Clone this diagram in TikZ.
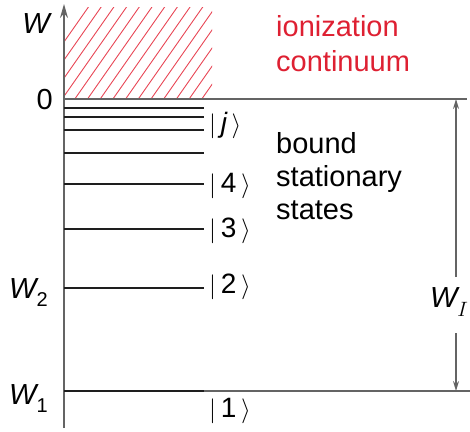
\documentclass[tikz,border=0pt]{standalone}
\usepackage{fontspec}
\setmainfont{Liberation Sans}
\usetikzlibrary{arrows.meta}
\definecolor{ionred}{RGB}{222,32,50}
\definecolor{hatchred}{RGB}{232,70,85}
\definecolor{axisgray}{RGB}{100,100,100}
\definecolor{levelblack}{RGB}{30,30,30}
\newcommand{\sub}[1]{\raisebox{-0.28em}{\fontsize{20}{20}\selectfont\upshape #1}}
\begin{document}
\begin{tikzpicture}[x=1pt,y=-1pt,
  lbl/.style={inner sep=0pt, font=\fontsize{29}{34}\selectfont},
  ket/.style={inner sep=0pt, anchor=west, font=\fontsize{28}{34}\selectfont},
  level/.style={draw=levelblack, line width=1.4pt},
  grayline/.style={draw=axisgray, line width=1.4pt},
  hatch/.style={draw=hatchred, line width=0.9pt},
  wi/.style={draw=axisgray, line width=1.3pt, -{Stealth[length=10pt,width=6pt]}}]
\useasboundingbox (0,0) rectangle (470,431);
% hatch
\begin{scope}
\clip (64,7) rectangle (212,99);
\foreach \i in {0,...,20}{
  \draw[hatch] ({64+12.7*\i-40}, 99) -- ++(65,-92.8);
}
\end{scope}
% nodes / coordinates
\coordinate (axb) at (64,428);
\coordinate (axt) at (64,4);
\coordinate (z0) at (64,99);
\coordinate (zr) at (467,99);
% axis
\draw[grayline, -{Stealth[length=14pt,width=8pt]}] (axb) -- (axt);
% zero line
\draw[grayline] (z0) -- (zr);
% levels
\foreach \y/\n in {108/la,117/lb,130/lc,153/ld,184/le,229/lf,288/lg}{
  \coordinate (\n a) at (64,\y);
  \coordinate (\n b) at (204,\y);
  \draw[level] (\n a) -- (\n b);
}
\coordinate (w1a) at (64,391);
\coordinate (w1b) at (204,391);
\coordinate (w1c) at (470,391);
\draw[level] (w1a) -- (w1b);
\draw[grayline] (w1b) -- (w1c);
% W_I arrows
\node[lbl] (WI) at (449,302) {\itshape W\raisebox{-0.28em}{\fontsize{20}{20}\selectfont$I$}};
\coordinate (wit) at (456,99);
\coordinate (wib) at (456,391);
\coordinate (wiu) at (456,277);
\coordinate (wil) at (456,333);
\draw[wi] (wiu) -- (wit);
\draw[wi] (wil) -- (wib);
% labels on axis
\node[lbl, anchor=base east] (W) at (50,33) {\itshape W};
\node[lbl, anchor=base east] (zero) at (53,109) {0};
\node[lbl, anchor=base west] (W2) at (9,298) {\itshape W\sub{2}};
\node[lbl, anchor=base west] (W1) at (9,404) {\itshape W\sub{1}};
% kets
\node[ket] (kj) at (209,125) {$|$\,\itshape j\,$\rangle$};
\node[ket] (k4) at (209,186) {$|$\,4\,$\rangle$};
\node[ket] (k3) at (209,231) {$|$\,3\,$\rangle$};
\node[ket] (k2) at (209,287) {$|$\,2\,$\rangle$};
\node[ket] (k1) at (209,411) {$|$\,1\,$\rangle$};
% texts
\node[lbl, anchor=base west, text=ionred] (ion) at (276,36) {ionization};
\node[lbl, anchor=base west, text=ionred] (cont) at (276,71) {continuum};
\node[lbl, anchor=base west] (b1) at (276,153) {bound};
\node[lbl, anchor=base west] (b2) at (276,186) {stationary};
\node[lbl, anchor=base west] (b3) at (276,219) {states};
\end{tikzpicture}
\end{document}
